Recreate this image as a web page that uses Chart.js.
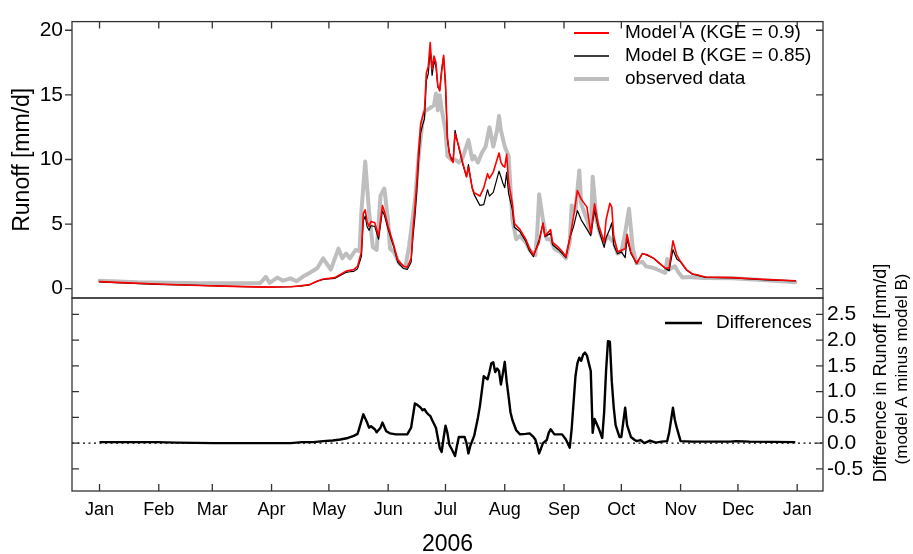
<!DOCTYPE html>
<html lang="en">
<head>
  <meta charset="UTF-8">
  <title>Runoff 2006 - Model A vs Model B</title>
  <script src="https://cdn.jsdelivr.net/npm/chart.js"></script>
  <style>
    body { margin: 0; background: #fff; }
    #wrap { position: relative; width: 913px; height: 554px; }
    #wrap canvas { position: absolute; left: 0; top: 0; }
  </style>
</head>
<body>
  <div id="wrap">
    <canvas id="runoffChart" width="913" height="554"></canvas>
    <canvas id="diffChart" width="913" height="554"></canvas>
  </div>
  <script>
    // day of year (0 = 1 Jan 2006)
    var modelDays = [0,15,30,52,70,88,100,105,110,114,117,120,123,126,129,131,133,135,137,138,
      139,140,141,142,144,146,148,149,151,154,156,159,161,162,163,164,165,166,167,168,
      169,170,171,172,173,174,175,176,177,178,179,180,181,182,183,184,185,186,188,190,
      192,193,195,196,199,201,203,204,206,209,210,211,212,213,214,216,217,220,223,225,
      227,230,232,233,236,237,240,242,244,246,248,250,252,255,257,259,261,264,265,267,
      268,269,271,273,275,276,278,281,284,287,290,292,296,298,300,302,304,307,310,313,
      317,331,349,364];
    var modelA = [0.55,0.45,0.36,0.25,0.18,0.12,0.15,0.22,0.32,0.6,0.75,0.8,0.86,1.1,1.36,1.42,1.48,1.73,2.84,5.81,
      6.1,5.2,4.82,5.2,5.1,4.08,6.43,6.0,4.82,3.34,2.23,1.73,1.66,2.0,2.35,4.57,6.3,8.29,10.8,12.74,
      13.3,13.8,16.7,17.2,19.05,16.95,18.0,17.5,15.7,15.3,16.8,18.06,16.0,11.75,10.5,10.0,9.77,12.0,11.0,9.77,
      8.66,9.4,7.8,7.42,7.17,7.8,8.9,8.54,9.03,10.5,9.8,9.52,9.4,10.4,8.28,6.55,5.07,4.57,3.83,3.09,
      2.6,3.59,5.07,4.08,4.57,3.59,3.21,2.9,2.47,3.83,5.57,7.6,6.93,6.31,4.33,6.56,4.95,3.59,5.32,6.61,
      6.31,4.08,2.84,2.97,3.09,4.2,2.84,1.97,2.72,2.6,2.35,2.1,1.6,1.6,3.71,2.6,2.1,1.48,1.16,1.06,
      0.91,0.86,0.71,0.62];
    var modelB = [0.53,0.43,0.34,0.25,0.18,0.12,0.15,0.2,0.3,0.58,0.71,0.75,0.8,1.03,1.27,1.31,1.34,1.55,2.5,5.25,
      5.62,4.8,4.52,4.87,4.83,3.83,6.03,5.7,4.6,3.17,2.06,1.56,1.49,1.76,2.05,4.0,5.53,7.54,10.08,12.05,
      12.66,13.14,16.1,16.64,18.52,16.5,17.62,17.2,15.6,15.4,16.97,17.96,15.66,11.55,10.53,10.1,9.95,12.25,10.88,9.65,
      8.66,9.6,7.75,7.28,6.45,6.5,7.66,7.16,7.46,9.1,8.66,8.17,7.82,9.0,7.37,6.1,4.75,4.4,3.65,2.9,
      2.48,3.79,5.07,4.03,4.3,3.4,3.04,2.73,2.4,3.92,4.8,6.05,5.33,4.61,4.1,6.09,4.65,3.2,3.92,4.64,
      5.1,3.38,2.7,2.85,2.4,3.85,2.72,1.93,2.72,2.56,2.34,2.07,1.57,1.4,3.02,2.3,2.06,1.45,1.13,1.03,
      0.88,0.83,0.68,0.6];

    var obsDays = [0,20,52,84,87,89,93,96,100,103,107,110,114,117,121,125,127,129,131,134,
      136,137,139,141,143,145,147,149,151,152,154,157,160,162,165,167,169,170,173,175,
      176,177,178,179,181,182,184,186,188,190,193,195,196,198,200,202,204,206,208,209,
      210,212,214,215,216,218,220,223,225,228,229,230,232,234,236,238,241,244,246,247,
      249,251,252,255,257,258,260,262,264,266,269,271,273,275,277,279,281,284,286,290,
      293,296,297,298,301,303,305,308,312,316,331,349,364];
    var observed = [0.62,0.5,0.42,0.42,0.91,0.45,0.86,0.62,0.8,0.57,0.99,1.24,1.6,2.35,1.48,3.1,2.35,2.72,2.35,3.0,
      2.9,5.95,9.85,5.95,3.22,3.0,7.2,7.75,5.2,3.1,2.84,1.9,1.66,3.34,6.8,10.27,13.0,13.7,14.0,14.2,
      15.1,13.8,14.97,13.9,12.25,10.27,10.0,10.0,9.77,10.14,11.5,10.0,10.27,9.77,10.5,11.0,12.5,11.0,12.25,13.36,
      12.25,11.0,10.27,7.8,5.32,3.83,4.08,3.59,3.0,2.6,4.33,7.3,5.32,3.83,3.83,3.09,2.84,2.35,3.59,6.43,
      6.06,9.15,6.56,5.32,4.33,8.66,5.32,4.2,3.59,4.08,3.59,2.72,2.84,4.33,6.18,3.09,1.97,2.08,1.73,1.6,
      1.41,1.23,2.3,1.48,1.73,1.23,0.86,0.91,0.86,0.82,0.8,0.65,0.5];

    var diffDays = [0,30,40,60,100,106,112,117,122,126,130,133,135,136,138,140,141,142,143,144,
      145,147,148,150,152,155,161,163,165,166,168,169,170,171,172,173,174,176,177,178,
      179,180,181,182,183,184,186,187,188,191,192,193,194,196,198,199,201,203,204,205,
      206,207,208,209,210,211,212,213,214,215,216,218,220,223,225,227,228,229,230,232,
      234,235,236,238,242,244,246,247,249,250,251,252,253,254,255,256,257,258,259,261,
      263,264,265,266,267,268,269,270,272,273,275,276,278,280,281,283,285,288,291,294,
      297,298,300,301,302,304,310,330,333,340,364];
    var differences = [0.02,0.02,0.01,0.0,0.0,0.02,0.02,0.04,0.05,0.07,0.1,0.14,0.18,0.3,0.56,0.4,0.3,0.33,0.3,0.27,
      0.21,0.3,0.4,0.23,0.19,0.17,0.17,0.3,0.77,0.75,0.69,0.64,0.66,0.6,0.56,0.53,0.45,0.3,0.1,-0.1,
      -0.17,0.1,0.34,0.2,-0.03,-0.1,-0.25,-0.05,0.12,0.12,0.0,-0.2,-0.05,0.14,0.5,0.72,1.3,1.24,1.38,1.55,
      1.57,1.38,1.45,1.4,1.14,1.35,1.58,1.2,0.91,0.6,0.45,0.25,0.17,0.18,0.19,0.12,0.07,-0.05,-0.2,0.0,
      0.06,0.2,0.27,0.17,0.17,0.07,-0.09,0.27,1.3,1.55,1.66,1.6,1.72,1.76,1.7,1.55,1.4,0.2,0.47,0.3,
      0.1,0.6,1.4,1.98,1.97,1.2,0.7,0.35,0.12,0.12,0.69,0.35,0.12,0.06,0.04,0.06,0.0,0.05,0.01,0.03,
      0.04,0.2,0.69,0.45,0.3,0.04,0.03,0.03,0.04,0.03,0.02];

    var monthDays = [0,31,59,90,120,151,181,212,243,273,304,334,365];
    var monthLabels = ['Jan','Feb','Mar','Apr','May','Jun','Jul','Aug','Sep','Oct','Nov','Dec','Jan'];
    var runoffTicks = [0,5,10,15,20];
    var diffTicks = [-0.5,0,0.5,1,1.5,2,2.5];

    var FONT = "'Liberation Sans', Arial, sans-serif";
    var X_MIN = -14.4, X_MAX = 378.5;

    function pairs(xs, ys) {
      return xs.map(function (x, i) { return { x: x, y: ys[i] }; });
    }

    // box around the panel plus R-style short tick marks
    function boxPlugin(monthEdge, yTicks, leftOut) {
      return {
        id: 'box',
        afterDraw: function (chart) {
          var ctx = chart.ctx, a = chart.chartArea;
          var xs = chart.scales.x, ys = chart.scales.y;
          ctx.save();
          ctx.strokeStyle = '#333';
          ctx.lineWidth = 1.3;
          ctx.strokeRect(a.left, a.top, a.right - a.left, a.bottom - a.top);
          ctx.beginPath();
          monthDays.forEach(function (d) {
            var px = xs.getPixelForValue(d);
            if (monthEdge === 'top') { ctx.moveTo(px, a.top); ctx.lineTo(px, a.top + 7); }
            else { ctx.moveTo(px, a.bottom); ctx.lineTo(px, a.bottom - 7); }
          });
          yTicks.forEach(function (v) {
            var py = ys.getPixelForValue(v);
            ctx.moveTo(a.left, py); ctx.lineTo(a.left + (leftOut ? -7 : 7), py);
            ctx.moveTo(a.right, py); ctx.lineTo(a.right - 7, py);
          });
          ctx.stroke();
          ctx.restore();
        }
      };
    }

    function drawLegend(ctx, items, x0, x1, tx, y0, step) {
      ctx.save();
      ctx.font = '19px ' + FONT;
      ctx.textBaseline = 'middle';
      ctx.fillStyle = '#000';
      items.forEach(function (it, i) {
        var y = y0 + i * step;
        ctx.strokeStyle = it.color;
        ctx.lineWidth = it.width;
        ctx.beginPath(); ctx.moveTo(x0, y); ctx.lineTo(x1, y); ctx.stroke();
        ctx.fillText(it.text, tx, y);
      });
      ctx.restore();
    }

    new Chart(document.getElementById('runoffChart'), {
      type: 'line',
      data: {
        datasets: [
          { label: 'Model A (KGE = 0.9)', data: pairs(modelDays, modelA), borderColor: '#ff0000', borderWidth: 1.6, order: 1 },
          { label: 'Model B (KGE = 0.85)', data: pairs(modelDays, modelB), borderColor: '#000000', borderWidth: 1.2, order: 2 },
          { label: 'observed data', data: pairs(obsDays, observed), borderColor: '#bebebe', borderWidth: 4, order: 3 }
        ]
      },
      options: {
        responsive: false,
        animation: false,
        events: [],
        layout: { padding: { top: 10, right: 90, bottom: 256, left: 0 } },
        elements: { point: { radius: 0 }, line: { tension: 0, borderJoinStyle: 'round', borderCapStyle: 'round' } },
        plugins: { legend: { display: false }, tooltip: { enabled: false } },
        scales: {
          x: { type: 'linear', display: false, min: X_MIN, max: X_MAX },
          y: {
            min: -0.72, max: 20.67,
            grid: { display: false, drawTicks: false }, border: { display: false },
            afterBuildTicks: function (s) { s.ticks = runoffTicks.map(function (v) { return { value: v }; }); },
            afterFit: function (s) { s.width = 72; },
            ticks: { color: '#000', padding: 9, font: { family: FONT, size: 21 } },
            title: { display: true, text: 'Runoff [mm/d]', color: '#000', padding: { top: 9 }, font: { family: FONT, size: 23 } }
          }
        }
      },
      plugins: [boxPlugin('top', runoffTicks, true), {
        id: 'legendTop',
        afterDraw: function (chart) {
          drawLegend(chart.ctx, [
            { text: 'Model A (KGE = 0.9)', color: '#ff0000', width: 2 },
            { text: 'Model B (KGE = 0.85)', color: '#000000', width: 1.5 },
            { text: 'observed data', color: '#bebebe', width: 4 }
          ], 574, 609, 625, 33, 23);
        }
      }]
    });

    new Chart(document.getElementById('diffChart'), {
      type: 'line',
      data: {
        datasets: [
          { label: 'Differences', data: pairs(diffDays, differences), borderColor: '#000000', borderWidth: 2.4 }
        ]
      },
      options: {
        responsive: false,
        animation: false,
        events: [],
        layout: { padding: { top: 298, right: 0, bottom: 0, left: 72 } },
        elements: { point: { radius: 0 }, line: { tension: 0, borderJoinStyle: 'round' } },
        plugins: { legend: { display: false }, tooltip: { enabled: false } },
        scales: {
          x: {
            type: 'linear', position: 'bottom', min: X_MIN, max: X_MAX,
            grid: { display: false, drawTicks: false }, border: { display: false },
            afterBuildTicks: function (s) { s.ticks = monthDays.map(function (v) { return { value: v }; }); },
            afterFit: function (s) { s.height = 63; },
            ticks: {
              autoSkip: false, maxRotation: 0, color: '#000', padding: 8,
              font: { family: FONT, size: 18 },
              callback: function (v, i) { return monthLabels[i]; }
            },
            title: { display: true, text: '2006', color: '#000', padding: 0, font: { family: FONT, size: 23, lineHeight: 0.8 } }
          },
          y: {
            position: 'right', min: -0.93, max: 2.82,
            grid: { display: false, drawTicks: false }, border: { display: false },
            afterBuildTicks: function (s) { s.ticks = diffTicks.map(function (v) { return { value: v }; }); },
            afterFit: function (s) { s.width = 90; },
            ticks: {
              color: '#000', padding: 4, crossAlign: 'near',
              font: { family: FONT, size: 21 },
              callback: function (v) { return v.toFixed(1); }
            }
          }
        }
      },
      plugins: [{
        id: 'zeroLine',
        beforeDatasetsDraw: function (chart) {
          var ctx = chart.ctx, a = chart.chartArea;
          var py = chart.scales.y.getPixelForValue(0);
          ctx.save();
          ctx.strokeStyle = '#000';
          ctx.lineWidth = 1.3;
          ctx.setLineDash([2, 3.5]);
          ctx.beginPath(); ctx.moveTo(a.left, py); ctx.lineTo(a.right, py); ctx.stroke();
          ctx.restore();
        }
      }, boxPlugin('bottom', diffTicks, false), {
        id: 'legendAndTitles',
        afterDraw: function (chart) {
          var ctx = chart.ctx;
          drawLegend(ctx, [{ text: 'Differences', color: '#000000', width: 2.5 }], 665, 702, 716, 323, 0);
          ctx.save();
          ctx.fillStyle = '#000';
          ctx.textAlign = 'center';
          ctx.textBaseline = 'middle';
          ctx.translate(881, 373);
          ctx.rotate(-Math.PI / 2);
          ctx.font = '18px ' + FONT;
          ctx.fillText('Difference in Runoff [mm/d]', 0, 0);
          ctx.font = '17px ' + FONT;
          ctx.fillText('(model A minus model B)', 4, 21);
          ctx.restore();
        }
      }]
    });
  </script>
</body>
</html>
